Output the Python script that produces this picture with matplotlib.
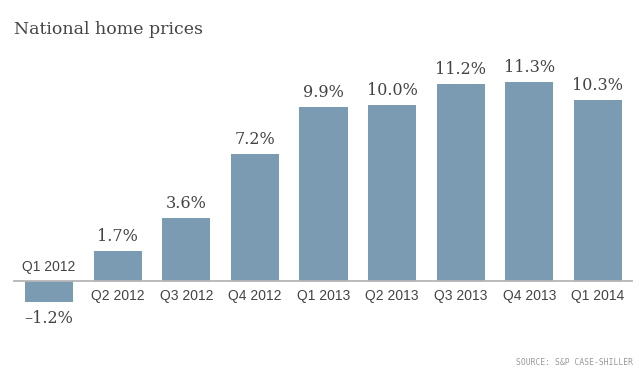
import matplotlib.pyplot as plt

quarters = ['Q1 2012', 'Q2 2012', 'Q3 2012', 'Q4 2012', 'Q1 2013',
            'Q2 2013', 'Q3 2013', 'Q4 2013', 'Q1 2014']
changes = [-1.2, 1.7, 3.6, 7.2, 9.9, 10.0, 11.2, 11.3, 10.3]
labels = ['-1.2%', '1.7%', '3.6%', '7.2%', '9.9%', '10.0%', '11.2%', '11.3%', '10.3%']

bar_color = '#7a9bb2'
text_color = '#444444'
sans = ['Liberation Sans', 'DejaVu Sans']
serif = ['DejaVu Serif']

fig = plt.figure(figsize=(6.39, 3.71), dpi=100)
ax = fig.add_axes([0, 0, 1, 1])
ax.axis('off')

# pixel mapping: bar centres 49..598 px, baseline at 281 px from top
px_x = 68.625
px_y = 17.6
ax.set_xlim(-49 / px_x, 8 + 41 / px_x)
ax.set_ylim(-90 / px_y, 281 / px_y)

x = range(len(changes))
ax.bar(x, changes, width=0.70, color=bar_color, zorder=2)
ax.plot([-0.51, 8.5], [0, 0], color='#b5b5b5', lw=1.3, zorder=3)

for i, (v, lab, q) in enumerate(zip(changes, labels, quarters)):
    if v >= 0:
        ax.text(i, v + 0.33, lab, ha='center', va='bottom', fontsize=11.5,
                family=serif, color=text_color)
        ax.text(i, -0.88, q, ha='center', va='center', fontsize=10,
                family=sans, color=text_color)
    else:
        ax.text(i, v - 0.95, lab.replace('-', '\u2013'), ha='center', va='center',
                fontsize=11.5, family=serif, color=text_color)
        ax.text(i, 0.8, q, ha='center', va='center', fontsize=10,
                family=sans, color=text_color)

fig.text(14 / 639, 1 - 30 / 371, 'National home prices', ha='left', va='center',
         fontsize=12.5, family=serif, color=text_color)
fig.text(633 / 639, 1 - 362.5 / 371, 'SOURCE: S&P CASE-SHILLER', ha='right',
         va='center', fontsize=5.8, family='DejaVu Sans Mono', color='#999999')

fig.savefig('out.png', dpi=100)
